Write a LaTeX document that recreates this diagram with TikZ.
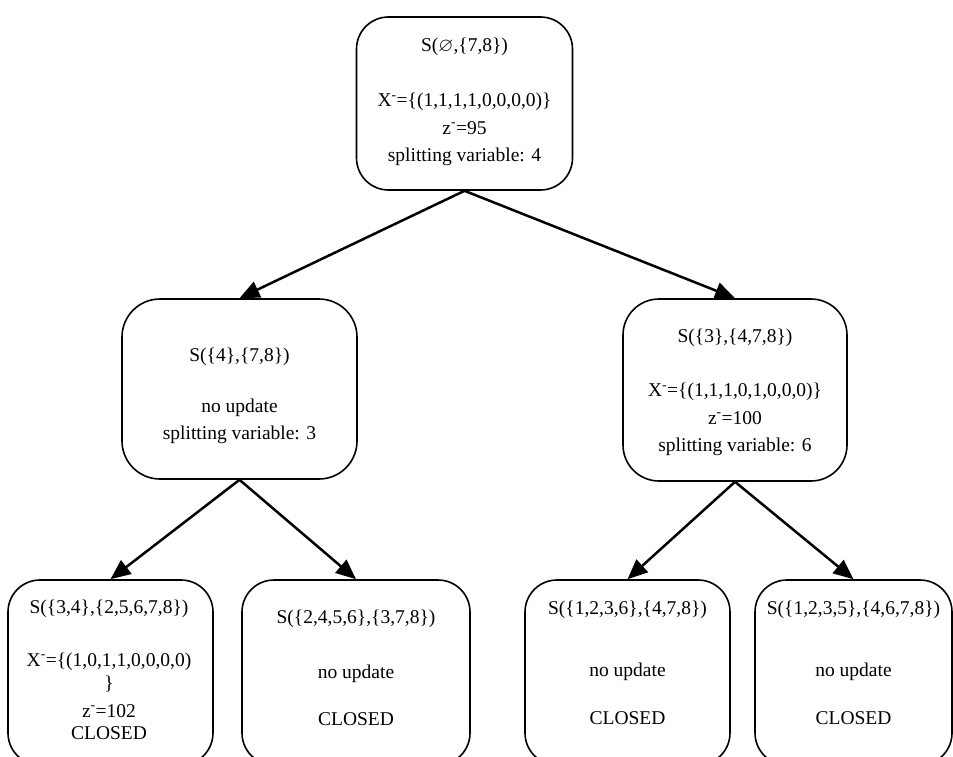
\documentclass[tikz,border=0pt]{standalone}
\usepackage{fontspec}
\usepackage{amssymb}
\setmainfont{Liberation Serif}
\usetikzlibrary{arrows.meta}
\begin{document}
\begin{tikzpicture}[x=1pt,y=-1pt,
  box/.style={draw,line width=1.6pt,rounded corners=32pt,inner sep=0pt,rectangle},
  txt/.style={align=center,inner sep=0pt,font=\fontsize{19.5}{27.5}\selectfont},
  arr/.style={line width=2.5pt,-{Triangle[length=20pt,width=17pt]}}]
\useasboundingbox (0,0) rectangle (953,757);
\clip (0,0) rectangle (953,757);
\fill[white] (0,0) rectangle (953,757);
% boxes
\node[box,minimum width=216pt,minimum height=173pt] (root) at (464.5,103.5) {};
\node[box,minimum width=235pt,minimum height=180pt,rounded corners=38pt] (lm) at (239.5,389) {};
\node[box,minimum width=224pt,minimum height=182pt,rounded corners=36pt] (rm) at (735,390) {};
\node[box,minimum width=205pt,minimum height=185pt] (b1) at (110.5,672.5) {};
\node[box,minimum width=228pt,minimum height=185pt] (b2) at (356,672.5) {};
\node[box,minimum width=205pt,minimum height=185pt] (b3) at (627.5,672.5) {};
\node[box,minimum width=197pt,minimum height=185pt] (b4) at (853.5,672.5) {};
% texts
\node[txt] (roott) at (464.5,102) {S($\varnothing$,\{7,8\})\\[28pt] X\textsuperscript{-}=\{(1,1,1,1,0,0,0,0)\}\\ z\textsuperscript{-}=95\\ splitting variable: 4};
\node[txt] (lmt) at (239.5,396) {S(\{4\},\{7,8\})\\[23pt] no update\\ splitting variable: 3};
\node[txt] (rmt) at (735,392.5) {S(\{3\},\{4,7,8\})\\[27pt] X\textsuperscript{-}=\{(1,1,1,0,1,0,0,0)\}\\ z\textsuperscript{-}=100\\ splitting variable: 6};
\node[txt] (b1t) at (109,670) {S(\{3,4\},\{2,5,6,7,8\})\\[25pt] X\textsuperscript{-}=\{(1,0,1,1,0,0,0,0)\\[-4pt] \}\\[0pt] z\textsuperscript{-}=102\\[-5pt] CLOSED};
\node[txt] (b2t) at (356,667.5) {S(\{2,4,5,6\},\{3,7,8\})\\[28pt] no update\\[19pt] CLOSED};
\node[txt] (b3t) at (627.5,662.5) {S(\{1,2,3,6\},\{4,7,8\})\\[35pt] no update\\[20pt] CLOSED};
\node[txt] (b4t) at (853.5,662.5) {S(\{1,2,3,5\},\{4,6,7,8\})\\[35pt] no update\\[20pt] CLOSED};
% arrows
\draw[arr] (root.south) -- (lm.north);
\draw[arr] (root.south) -- (rm.north);
\draw[arr] (lm.south) -- (b1.north);
\draw[arr] (lm.south) -- (b2.north);
\draw[arr] (rm.south) -- (b3.north);
\draw[arr] (rm.south) -- (b4.north);
\end{tikzpicture}
\end{document}
